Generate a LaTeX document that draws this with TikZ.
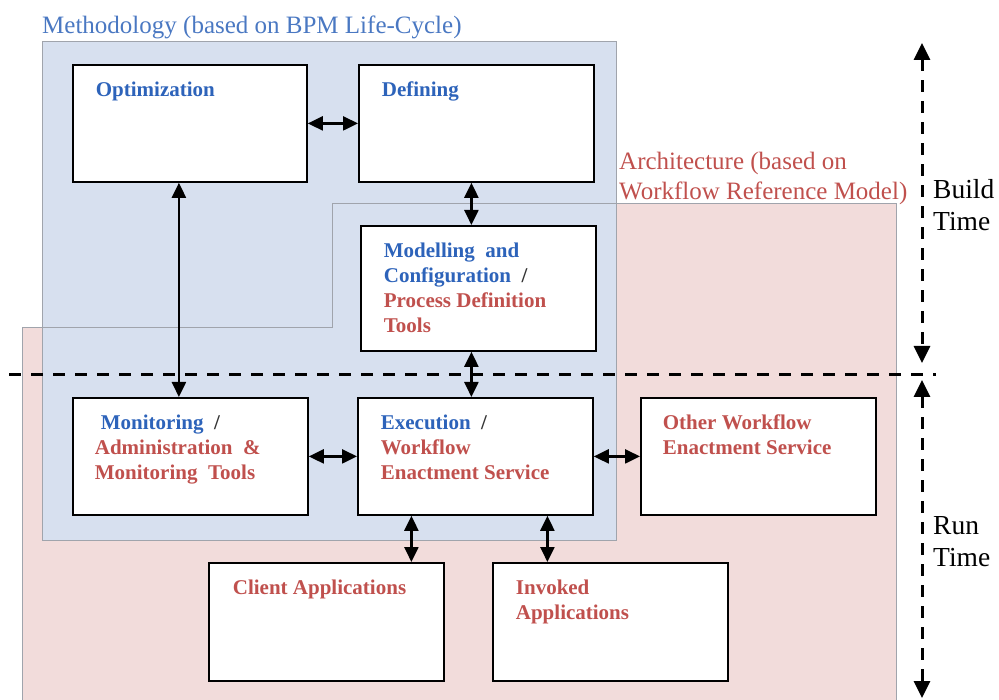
\documentclass[tikz,border=0pt]{standalone}
\usepackage{fontspec}
\setmainfont{Liberation Serif}
\usetikzlibrary{arrows.meta}
\definecolor{bblue}{HTML}{2D63BA}
\definecolor{tblue}{HTML}{4A78C2}
\definecolor{rred}{HTML}{C0504D}
\definecolor{regblue}{HTML}{D7E0EF}
\definecolor{regpink}{HTML}{F2DCDB}
\definecolor{slash}{HTML}{333333}
\definecolor{edgegrey}{HTML}{A0A4AC}
\newcommand\boxtxt[4]{\parbox[c][#2pt][t]{#1pt}{\raggedright\leftskip=#3pt\fontsize{21}{25}\selectfont\bfseries\rule{0pt}{32pt}#4\par}}
\tikzset{
  box/.style={draw=black, line width=1.8pt, fill=white, inner sep=0pt, anchor=north west},
  dar/.style={line width=2.4pt, {Triangle[length=15pt,width=14pt]}-{Triangle[length=15pt,width=14pt]}},
  dashar/.style={line width=3pt, dash pattern=on 12pt off 9pt, {Triangle[length=17pt,width=16pt]}-{Triangle[length=17pt,width=16pt]}},
  regionedge/.style={draw=edgegrey, line width=1pt},
  plain/.style={inner sep=0pt, align=left}
}
\begin{document}
\begin{tikzpicture}[x=1pt,y=-1pt]
\useasboundingbox (0,0) rectangle (999,700);
% regions
\fill[regpink] (22,700) -- (22,328) -- (332,328) -- (332,204) -- (896,204) -- (896,700) -- cycle;
\fill[regblue] (42,42) rectangle (616,540);
\draw[regionedge] (22,700) -- (22,328) -- (332,328) -- (332,204) -- (896,204) -- (896,700);
\draw[regionedge] (42,42) rectangle (616,540);
% region titles
\node[plain, anchor=base west, text=tblue, font=\fontsize{25}{30}\selectfont] (meth) at (42,34) {Methodology (based on BPM Life-Cycle)};
\node[plain, anchor=north west, text=rred, font=\fontsize{25}{29.5}\selectfont] (arch) at (619,152) {Architecture (based on\\Workflow Reference Model)};
% time labels
\node[plain, anchor=north west, font=\fontsize{27.5}{32}\selectfont] (build) at (933,179) {Build\\Time};
\node[plain, anchor=north west, font=\fontsize{27.5}{32}\selectfont] (run) at (933,516) {Run\\Time};
% separator and time arrows
\coordinate (sepL) at (9,375);
\coordinate (sepR) at (936,375);
\draw[line width=3pt, dash pattern=on 12pt off 10pt] (sepL) -- (sepR);
\coordinate (bt1) at (922,43);
\coordinate (bt2) at (922,363);
\coordinate (rt1) at (922,380);
\coordinate (rt2) at (922,698);
\draw[dashar] (bt1) -- (bt2);
\draw[dashar] (rt1) -- (rt2);
% boxes
\node[box] (opt) at (72,64) {\boxtxt{234}{117}{23}{\color{bblue}Optimization}};
\node[box] (def) at (358,64) {\boxtxt{235}{117}{23}{\color{bblue}Defining}};
\node[box] (mod) at (360,225) {\boxtxt{235}{125}{23}{{\color{bblue}Modelling\ \ and\\Configuration} \ {\color{slash}/}\\{\color{rred}Process Definition\\Tools}}};
\node[box] (mon) at (72,397) {\boxtxt{235}{117}{22}{\hspace*{6pt}{\color{bblue}Monitoring} \ {\color{slash}/}\\{\color{rred}Administration \ \&\\Monitoring \ Tools}}};
\node[box] (exe) at (357,397) {\boxtxt{235}{117}{23}{{\color{bblue}Execution} \ {\color{slash}/}\\{\color{rred}Workflow\\Enactment Service}}};
\node[box] (oth) at (640,397) {\boxtxt{235}{117}{22}{\color{rred}Other Workflow\\Enactment Service}};
\node[box] (cli) at (208,562) {\boxtxt{235}{118}{24}{\color{rred}Client Applications}};
\node[box] (inv) at (492,562) {\boxtxt{235}{118}{23}{\color{rred}Invoked\\Applications}};
% connectors
\draw[dar] (opt.east) -- (def.west);
\draw[dar] ([xshift=-5pt]def.south) -- ([xshift=-5pt]def.south |- mod.north);
\draw[dar] ([xshift=-11pt]opt.south) -- ([xshift=-11pt]opt.south |- mon.north);
\draw[dar] ([xshift=-7pt]mod.south) -- ([xshift=-7pt]mod.south |- exe.north);
\draw[dar] (mon.east) -- (exe.west);
\draw[dar] (exe.east) -- (oth.west);
\draw[dar] ([xshift=-64pt]exe.south) -- ([xshift=-64pt]exe.south |- cli.north);
\draw[dar] ([xshift=72pt]exe.south) -- ([xshift=72pt]exe.south |- inv.north);
\end{tikzpicture}
\end{document}
